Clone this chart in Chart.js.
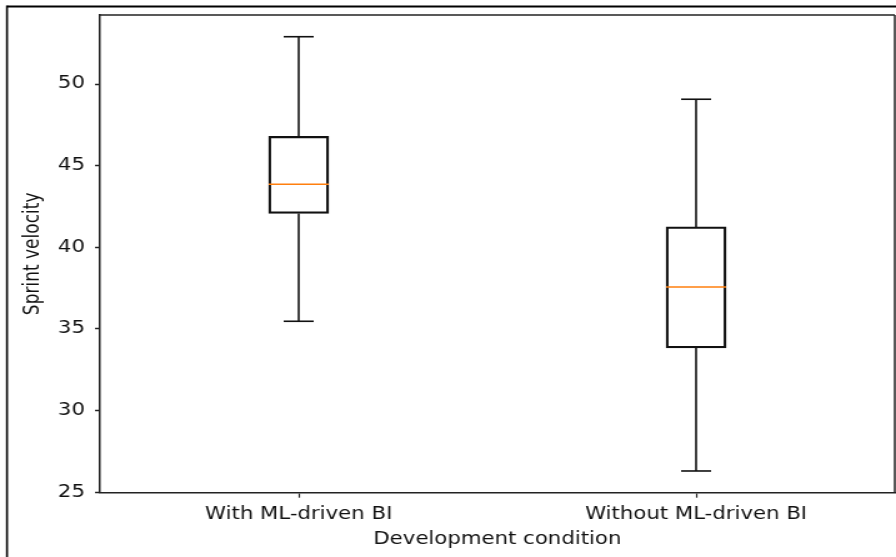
<!DOCTYPE html>
<html>
<head>
<meta charset="utf-8">
<script src="https://cdn.jsdelivr.net/npm/chart.js@4.4.0/dist/chart.umd.min.js"></script>
<style>
  html, body { margin: 0; padding: 0; background: #fff; overflow: hidden; }
  /* the reference is a stretched matplotlib export, so the chart is drawn narrower and scaled out */
  #stage { width: 717px; height: 557px; transform: scale(1.2497, 1); transform-origin: 0 0; }
</style>
</head>
<body>
<div id="stage"><canvas id="chart"></canvas></div>
<script>
const categories = ['With ML-driven BI', 'Without ML-driven BI'];
const whiskerLow = [35.47, 26.3];
const q1 = [42.07, 33.84];
const medians = [43.86, 37.57];
const q3 = [46.8, 41.25];
const whiskerHigh = [52.9, 49.07];
const yTicks = [25, 30, 35, 40, 45, 50];

const FONT = 'DejaVu Sans';
const TEXT = '#111';
const BOX_W = 48;

// whiskers, caps, medians, top/right spines and the outer frame
const boxExtras = {
  id: 'boxExtras',
  afterDraw(chart) {
    const { ctx, chartArea, scales: { x, y } } = chart;
    const seg = (x1, y1, x2, y2) => {
      ctx.beginPath();
      ctx.moveTo(x1, y1);
      ctx.lineTo(x2, y2);
      ctx.stroke();
    };
    ctx.save();
    ctx.lineWidth = 1.6;
    categories.forEach((c, i) => {
      const cx = x.getPixelForValue(i);
      const cap = BOX_W / 4;
      ctx.strokeStyle = '#111';
      seg(cx, y.getPixelForValue(q1[i]), cx, y.getPixelForValue(whiskerLow[i]));
      seg(cx, y.getPixelForValue(q3[i]), cx, y.getPixelForValue(whiskerHigh[i]));
      seg(cx - cap, y.getPixelForValue(whiskerLow[i]), cx + cap, y.getPixelForValue(whiskerLow[i]));
      seg(cx - cap, y.getPixelForValue(whiskerHigh[i]), cx + cap, y.getPixelForValue(whiskerHigh[i]));
      ctx.strokeStyle = '#ff7f0e';
      seg(cx - BOX_W / 2, y.getPixelForValue(medians[i]), cx + BOX_W / 2, y.getPixelForValue(medians[i]));
    });
    ctx.strokeStyle = '#222';
    ctx.lineWidth = 1.5;
    seg(chartArea.left, chartArea.top, chartArea.right, chartArea.top);
    seg(chartArea.right, chartArea.top, chartArea.right, chartArea.bottom);
    // outer frame of the screenshot
    ctx.strokeStyle = '#000';
    ctx.lineWidth = 2;
    seg(5.6, 6.5, chart.width + 5, 6.5);
    ctx.lineWidth = 1.6;
    seg(5.6, 5.5, 5.6, chart.height + 5);
    ctx.restore();
  }
};

new Chart(document.getElementById('chart'), {
  type: 'bar',
  data: {
    labels: categories,
    datasets: [{
      data: categories.map((c, i) => [q1[i], q3[i]]),
      backgroundColor: 'rgba(0,0,0,0)',
      borderColor: '#111',
      borderWidth: 1.6,
      borderSkipped: false,
      barThickness: BOX_W
    }]
  },
  options: {
    responsive: true,
    maintainAspectRatio: false,
    animation: false,
    layout: { padding: { top: 15, right: 1, left: 0, bottom: 0 } },
    plugins: { legend: { display: false }, tooltip: { enabled: false } },
    scales: {
      x: {
        grid: { display: true, drawOnChartArea: false, offset: false, tickLength: 5, tickColor: '#222', tickWidth: 1.2 },
        border: { display: true, color: '#222', width: 1.5 },
        ticks: { color: TEXT, font: { family: FONT, size: 17 }, padding: 7, maxRotation: 0 },
        title: { display: true, text: 'Development condition', color: TEXT, font: { family: FONT, size: 17 }, padding: { top: 0, bottom: 7 } },
        afterFit: (s) => { s.height = 64.3; s.paddingLeft = 0; s.paddingRight = 0; }
      },
      y: {
        min: 24.97,
        max: 54.23,
        afterBuildTicks: (s) => { s.ticks = yTicks.map(v => ({ value: v })); },
        grid: { display: true, drawOnChartArea: false, tickLength: 4, tickColor: '#222', tickWidth: 1.5 },
        border: { display: true, color: '#222', width: 1.5 },
        ticks: { color: TEXT, font: { family: FONT, size: 17 }, padding: 8 },
        title: { display: true, text: 'Sprint velocity', color: TEXT, font: { family: FONT, size: 17 }, padding: { top: 16, bottom: 0 } },
        afterFit: (s) => { s.width = 80; s.paddingTop = 0; s.paddingBottom = 0; }
      }
    }
  },
  plugins: [boxExtras]
});
</script>
</body>
</html>
